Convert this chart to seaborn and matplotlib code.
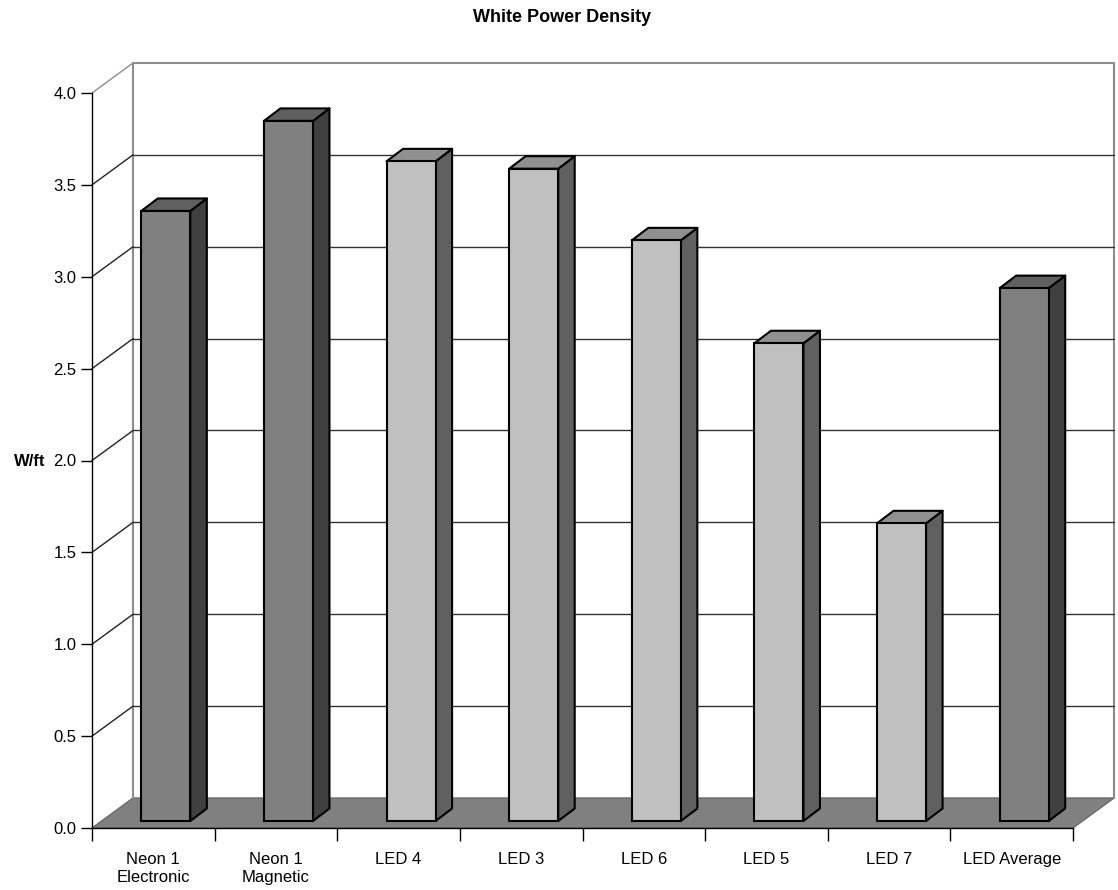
import matplotlib
matplotlib.use("Agg")
import matplotlib.pyplot as plt
from matplotlib.patches import Polygon
import numpy as np
import pandas as pd
import seaborn as sns

# ---- data ----
categories = ["Neon 1\nElectronic", "Neon 1\nMagnetic", "LED 4", "LED 3",
              "LED 6", "LED 5", "LED 7", "LED Average"]
power_density = [3.32, 3.81, 3.59, 3.55, 3.16, 2.60, 1.62, 2.90]
bar_group = ["dark", "dark", "light", "light", "light", "light", "light", "dark"]
y_ticks = [0.0, 0.5, 1.0, 1.5, 2.0, 2.5, 3.0, 3.5, 4.0]

# face colours (front, side, top) for each shade
palette = {
    "dark": ("#808080", "#404040", "#606060"),
    "light": ("#C0C0C0", "#606060", "#909090"),
}

sns.set_theme(style="white")
plt.rcParams["font.family"] = ["Liberation Sans", "DejaVu Sans"]

W, H, DPI = 1118, 890, 100
fig = plt.figure(figsize=(W / DPI, H / DPI), dpi=DPI)
left_px, right_px, bottom_px, top_px = 92, 1073, 828, 93
ax = fig.add_axes([left_px / W, 1 - bottom_px / H,
                   (right_px - left_px) / W, (bottom_px - top_px) / H])

# front faces via seaborn
df = pd.DataFrame({"category": categories, "value": power_density, "group": bar_group})
front_colors = [palette[g][0] for g in bar_group]
sns.barplot(data=df, x="category", y="value", hue="category", palette=front_colors,
            legend=False, width=0.4, ax=ax, edgecolor="black", linewidth=1.5,
            saturation=1, zorder=3)
bars = list(ax.patches)

ax.set_xlim(-0.5, len(categories) - 0.5)
ax.set_ylim(0, 4.0)

# pixel -> data conversions for the pseudo-3D offsets
px_x = (right_px - left_px) / len(categories)   # px per category
px_y = (bottom_px - top_px) / 4.0               # px per unit value
wall_dx, wall_dy = 41 / px_x, 30 / px_y         # back wall depth
bar_fx, bar_fy = 12.5 / px_x, 7 / px_y          # bar front-plane offset
bar_dx, bar_dy = 16.5 / px_x, 12.5 / px_y       # bar depth

x0, x1 = -0.5, len(categories) - 0.5
wall_col = "#8c8c8c"

# floor
ax.add_patch(Polygon([(x0, 0), (x1, 0), (x1 + wall_dx, wall_dy), (x0 + wall_dx, wall_dy)],
                     closed=True, facecolor="#808080", edgecolor="#6a6a6a",
                     lw=1, zorder=1, clip_on=False))
# back wall outline
ax.plot([x0 + wall_dx, x0 + wall_dx, x1 + wall_dx, x1 + wall_dx],
        [wall_dy, 4.0 + wall_dy, 4.0 + wall_dy, wall_dy],
        color=wall_col, lw=1.5, zorder=1, clip_on=False)
# gridlines on back wall and left wall
for v in y_ticks[1:]:
    c = wall_col if v == 4.0 else "#222222"
    if v < 4.0:
        ax.plot([x0 + wall_dx, x1 + wall_dx], [v + wall_dy, v + wall_dy],
                color="#333333", lw=1.0, zorder=1, clip_on=False)
    ax.plot([x0, x0 + wall_dx], [v, v + wall_dy], color=c, lw=1.0,
            zorder=1, clip_on=False)

# shift front faces onto their depth plane and add side/top faces
for patch, grp in zip(bars, bar_group):
    bx, bw, bh = patch.get_x() + bar_fx, patch.get_width(), patch.get_height()
    by = bar_fy
    patch.set_xy((bx, by))
    patch.set_clip_on(False)
    _, side_c, top_c = palette[grp]
    side = Polygon([(bx + bw, by), (bx + bw, by + bh),
                    (bx + bw + bar_dx, by + bh + bar_dy), (bx + bw + bar_dx, by + bar_dy)],
                   closed=True, facecolor=side_c, edgecolor="black", lw=1.5,
                   zorder=2.5, clip_on=False, joinstyle="round")
    top = Polygon([(bx, by + bh), (bx + bw, by + bh),
                   (bx + bw + bar_dx, by + bh + bar_dy), (bx + bar_dx, by + bh + bar_dy)],
                  closed=True, facecolor=top_c, edgecolor="black", lw=1.5,
                  zorder=2.5, clip_on=False, joinstyle="round")
    ax.add_patch(side)
    ax.add_patch(top)

# axes, ticks, labels
for s in ["top", "right"]:
    ax.spines[s].set_visible(False)
for s in ["left", "bottom"]:
    ax.spines[s].set_color("black")
    ax.spines[s].set_linewidth(1.0)
    ax.spines[s].set_zorder(4)

ax.set_yticks(y_ticks)
ax.set_yticklabels([f"{v:.1f}" for v in y_ticks], fontsize=12)
ax.tick_params(axis="y", direction="out", length=8, width=1, color="black",
               pad=3, left=True, labelcolor="black")
ax.set_xticks(range(len(categories)))
ax.set_xticklabels(categories, fontsize=12, color="black", linespacing=1.3)
ax.set_xticks(np.arange(-0.5, len(categories), 1.0), minor=True)
ax.tick_params(axis="x", which="major", length=0, pad=17)
ax.tick_params(axis="x", which="minor", direction="out", length=9, width=1,
               color="black", bottom=True)
ax.set_xlabel("")
ax.set_ylabel("")
ax.grid(False)
ax.patch.set_alpha(0)

fig.text(45 / W, 1 - 461 / H, "W/ft", ha="right", va="center",
         fontsize=12, fontweight="bold", color="black")
fig.text(562 / W, 1 - 18 / H, "White Power Density", ha="center", va="center",
         fontsize=13, fontweight="bold", color="black")

fig.savefig("out.png", dpi=DPI, facecolor="white")
